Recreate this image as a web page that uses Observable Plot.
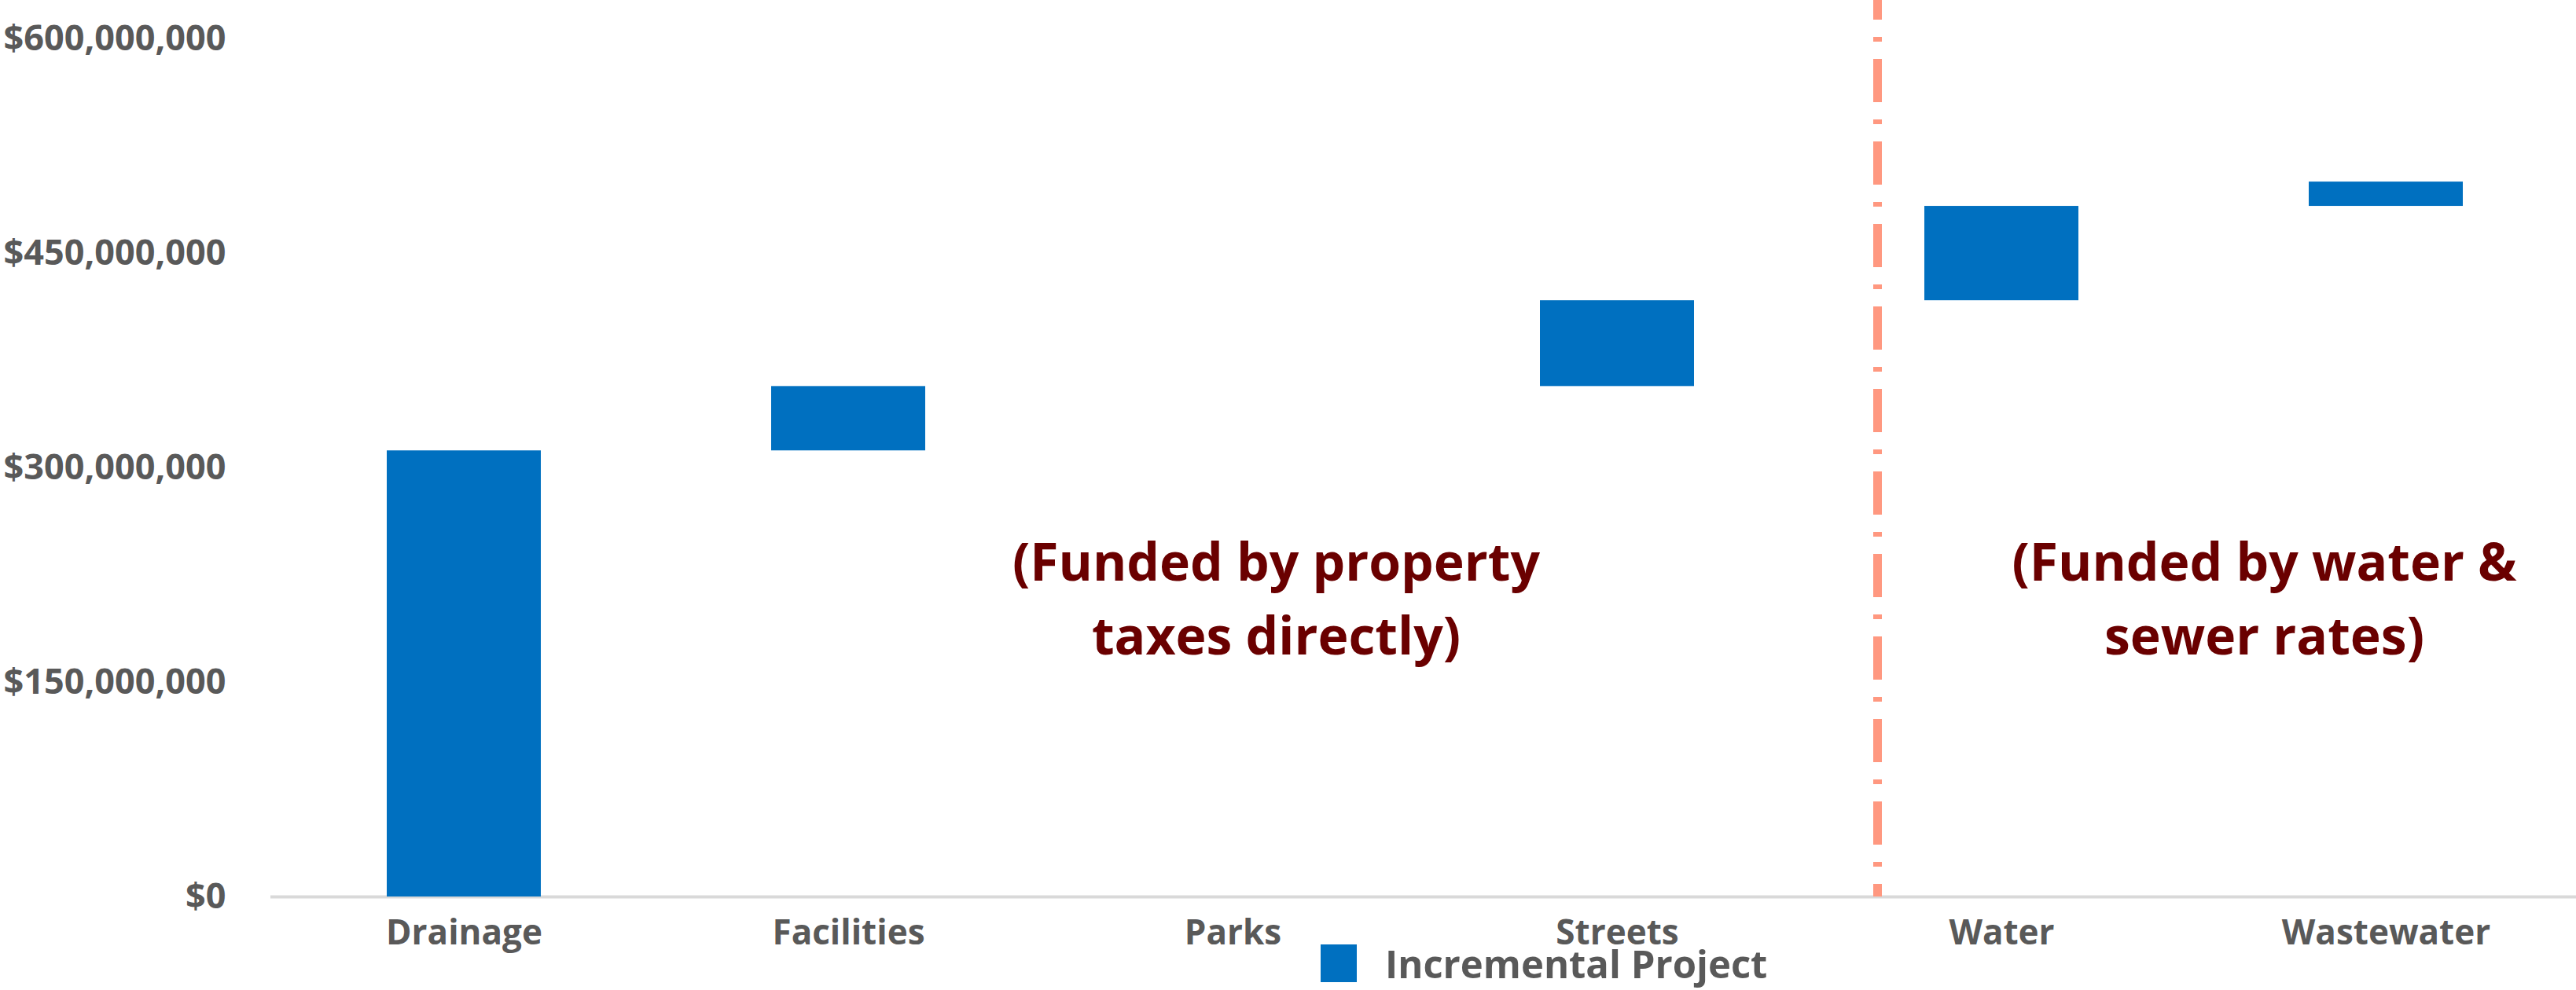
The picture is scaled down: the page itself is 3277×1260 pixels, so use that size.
<!DOCTYPE html>
<html><head><meta charset="utf-8">
<script src="https://cdn.jsdelivr.net/npm/d3@7"></script>
<script src="https://cdn.jsdelivr.net/npm/@observablehq/plot@0.6"></script>
<style>
html,body{margin:0;padding:0;background:#fff;}
#chart{position:relative;width:3277px;height:1260px;overflow:hidden;}
#chart svg{position:absolute;left:0;top:0;}
.legend{position:absolute;left:1680px;top:1202px;height:48px;display:flex;align-items:center;font-family:'Open Sans',sans-serif;font-weight:700;font-size:49px;color:#595959;white-space:nowrap;}
.legend .sw{width:46px;height:48px;background:#0070c0;margin-right:36px;flex:none;}
</style></head><body><div id="chart"></div>
<script>
// ---- data ----
const categories = ["Drainage", "Facilities", "Parks", "Streets", "Water", "Wastewater"];
const increments = [312e6, 45e6, 0, 60e6, 66e6, 17e6];
const yTicks = [0, 150e6, 300e6, 450e6, 600e6];
const seriesName = "Incremental Project";
const noteTexts = ["(Funded by property\ntaxes directly)", "(Funded by water &\nsewer rates)"];
const noteCategories = ["Parks", "Water"];
const noteValues = [212e6, 212e6];
const dividerAfter = ["Streets"];

// ---- build table ----
const ends = d3.cumsum(increments);
const rows = categories.map((c, i) => ({category: c, start: ends[i] - increments[i], end: ends[i]}));
const notes = noteTexts.map((t, i) => ({text: t, category: noteCategories[i], value: noteValues[i]}));

const blue = "#0070c0";
const grey = "#595959";

const plot = Plot.plot({
  width: 3277,
  height: 1260,
  marginLeft: 344,
  marginRight: -4,
  marginTop: 0,
  marginBottom: 119,
  style: {fontFamily: "'Open Sans', sans-serif", background: "#fff", overflow: "visible"},
  x: {type: "band", domain: categories, paddingInner: 0.6, paddingOuter: 0.3, label: null},
  y: {domain: [0, 627e6], label: null},
  marks: [
    Plot.ruleY([0], {stroke: "#d9d9d9", strokeWidth: 4}),
    Plot.barY(rows, {x: "category", y1: "start", y2: "end", fill: blue, insetLeft: 0, insetRight: 0}),
    Plot.ruleX(dividerAfter, {x: d => d, dx: 331, stroke: "#ff9880", strokeWidth: 11, strokeDasharray: "55,22,6,22", strokeDashoffset: 30}),
    Plot.text(notes.slice(0, 1), {x: "category", y: "value", text: "text", dx: 55, fill: "#6a0000", fontSize: 66, fontWeight: 700, lineHeight: 1.42, lineAnchor: "middle", textAnchor: "middle"}),
    Plot.text(notes.slice(1), {x: "category", y: "value", text: "text", dx: 334, fill: "#6a0000", fontSize: 66, fontWeight: 700, lineHeight: 1.42, lineAnchor: "middle", textAnchor: "middle"}),
    Plot.axisY({ticks: yTicks, tickFormat: d3.format("$,.0f"), tickSize: 0, tickPadding: 57, fontSize: 45, fontWeight: 700, fill: grey, label: null}),
    Plot.axisX({tickSize: 0, tickPadding: 29, fontSize: 44, fontWeight: 700, fill: grey, label: null})
  ]
});

const chart = document.getElementById("chart");
chart.appendChild(plot);
const legend = document.createElement("div");
legend.className = "legend";
const sw = document.createElement("span");
sw.className = "sw";
const lbl = document.createElement("span");
lbl.textContent = seriesName;
legend.appendChild(sw);
legend.appendChild(lbl);
chart.appendChild(legend);
</script>
</body></html>
